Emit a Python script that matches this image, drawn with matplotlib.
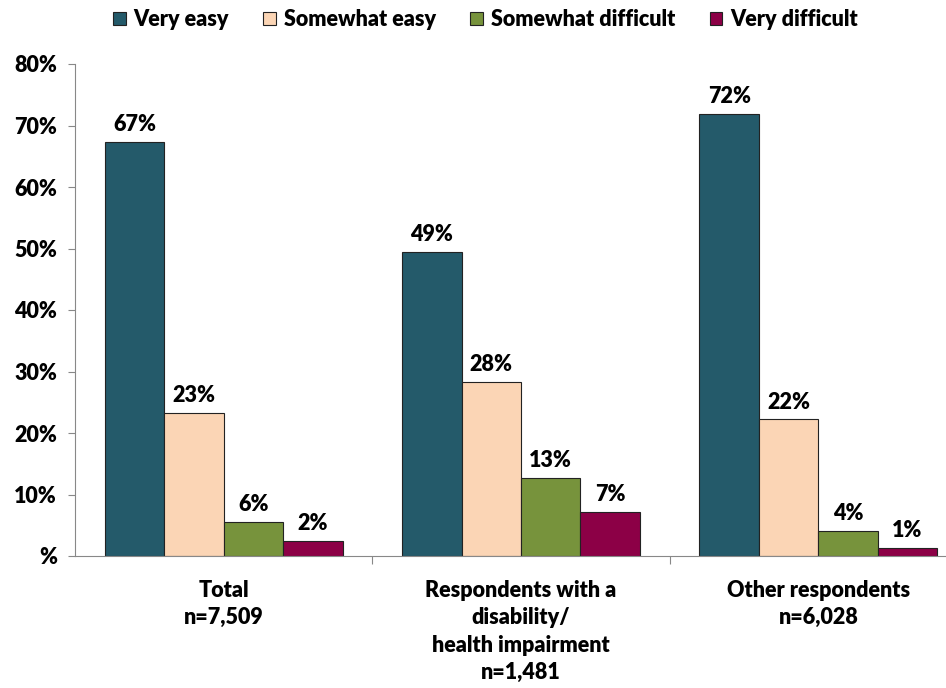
import numpy as np
import matplotlib.pyplot as plt

plt.rcParams['font.family'] = ['Lato', 'DejaVu Sans']
plt.rcParams['font.weight'] = 'heavy'

groups = ['Total\nn=7,509',
          'Respondents with a\ndisability/\nhealth impairment\nn=1,481',
          'Other respondents\nn=6,028']
series = ['Very easy', 'Somewhat easy', 'Somewhat difficult', 'Very difficult']
very_easy = [67.3, 49.4, 71.8]
somewhat_easy = [23.3, 28.3, 22.2]
somewhat_difficult = [5.6, 12.7, 4.0]
very_difficult = [2.4, 7.1, 1.3]
colors = ['#245A6A', '#FBD5B5', '#77933C', '#8C0046']

values = [very_easy, somewhat_easy, somewhat_difficult, very_difficult]

fig = plt.figure(figsize=(9.46, 6.88), dpi=100)
ax = fig.add_axes([75 / 946, 132 / 688, 892 / 946, 492 / 688])

x = np.arange(len(groups))
w = 0.2
fs = 15.5
for i, (name, vals) in enumerate(zip(series, values)):
    pos = x - 0.3 + i * w
    bars = ax.bar(pos, vals, w, color=colors[i], edgecolor='#222222',
                  linewidth=0.8, label=name)
    for b, v in zip(bars, vals):
        ax.annotate(f'{v:.0f}%', (b.get_x() + b.get_width() / 2, v),
                    xytext=(0, 5), textcoords='offset points',
                    ha='center', va='bottom', fontsize=fs, fontweight='heavy')

ax.set_xlim(-0.5, 2.5)
ax.set_ylim(0, 80)
ax.set_yticks(range(0, 81, 10))
ax.set_yticklabels(['%'] + [f'{v}%' for v in range(10, 81, 10)],
                   fontsize=fs, fontweight='heavy')
ax.set_xticks([0.5, 1.5, 2.5])
ax.set_xticklabels([])
ax.set_xticks(x, minor=True)
ax.set_xticklabels(groups, minor=True, fontsize=fs, fontweight='heavy',
                   linespacing=1.38, va='top')
ax.tick_params(axis='x', which='minor', length=0, pad=17)
ax.tick_params(axis='x', which='major', length=6, color='#888888')
ax.tick_params(axis='y', length=5, color='#888888', pad=8)

for s in ['top', 'right']:
    ax.spines[s].set_visible(False)
for s in ['left', 'bottom']:
    ax.spines[s].set_color('#888888')

fig.legend(loc='upper center', bbox_to_anchor=(0.513, 1.015), ncol=4,
           frameon=False, prop={'size': fs, 'weight': 'heavy'},
           handlelength=0.6, handleheight=0.6,
           handletextpad=0.35, columnspacing=1.6)

fig.savefig('out.png', dpi=100)
